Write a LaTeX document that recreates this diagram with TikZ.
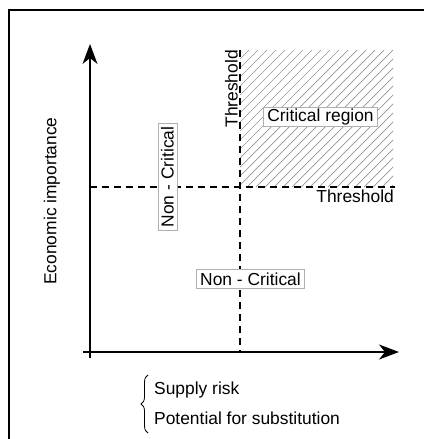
\documentclass[tikz,border=0pt]{standalone}
\usepackage{fontspec}
\setmainfont{Liberation Sans}
\usetikzlibrary{arrows.meta,decorations.pathreplacing}
\definecolor{boxgray}{RGB}{175,175,175}
\definecolor{hatchgray}{RGB}{150,150,150}
\begin{document}
\begin{tikzpicture}[x=1pt,y=-1pt,
  every node/.style={font=\fontsize{17.4}{20}\selectfont, text=black},
  axis/.style={line width=1.5pt, -{Stealth[length=20pt,width=15pt,inset=6pt]}},
  thr/.style={line width=1.2pt, dash pattern=on 7pt off 5pt},
  region/.style={draw=boxgray, line width=0.9pt, fill=white, inner xsep=3.5pt, inner ysep=1.5pt, minimum height=19pt},
  hatch/.style={draw=hatchgray, line width=0.7pt}]
\useasboundingbox (0,0) rectangle (424,439);
% frame
\draw[line width=2pt] (9,439) -- (9,10) -- (424,10);
% coordinates
\coordinate (ybot) at (90,358);
\coordinate (ytop) at (90,44);
\coordinate (xleft) at (83,352);
\coordinate (xright) at (399,352);
\coordinate (vtop) at (240,50);
\coordinate (vbot) at (240,352);
\coordinate (hleft) at (90,187);
\coordinate (hright) at (395,187);
% hatched critical region
\begin{scope}
  \clip (240,50) rectangle (393,187);
  \foreach \i in {0,...,32} {
    \draw[hatch] (103+9*\i,187) -- (240+9*\i,50);
  }
\end{scope}
% thresholds
\draw[thr] (vtop) -- (vbot);
\draw[thr] (hleft) -- (hright);
% axes
\draw[axis] (ybot) -- (ytop);
\draw[axis] (xleft) -- (xright);
% labels
\node[rotate=90, anchor=south east, inner sep=0pt] (vthr) at (238,50) {Threshold};
\node[anchor=north east, inner sep=0pt] (hthr) at (394,189.5) {Threshold};
\node[region] (crit) at (320.5,117) {Critical region};
\node[region, rotate=90] (nc1) at (167.5,177) {Non - Critical};
\node[region] (nc2) at (250.5,279) {Non - Critical};
\node[rotate=90] (econ) at (52,201) {Economic importance};
% brace and x labels
\coordinate (bbot) at (148,433);
\coordinate (btop) at (148,375);
\draw[line width=0.8pt, decorate, decoration={brace, amplitude=7pt}] (bbot) -- (btop);
\node[anchor=west, inner sep=0pt] (supply) at (154,390) {Supply risk};
\node[anchor=west, inner sep=0pt] (subst) at (154,418) {Potential for substitution};
\end{tikzpicture}
\end{document}
